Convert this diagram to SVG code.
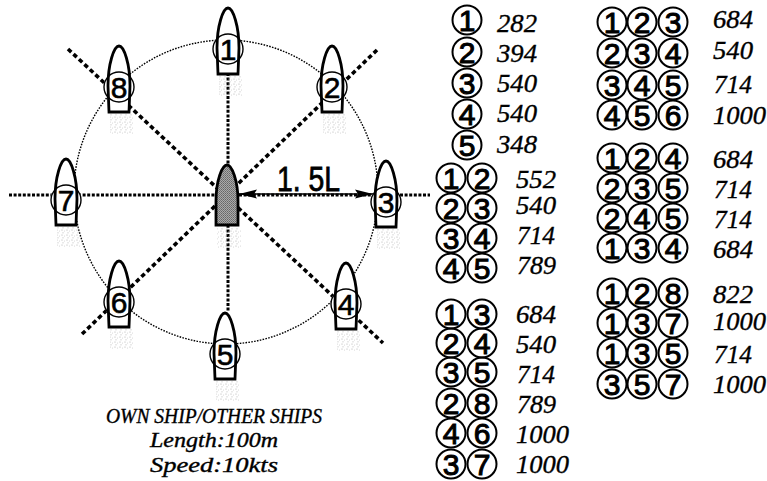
<svg xmlns="http://www.w3.org/2000/svg" xmlns:xlink="http://www.w3.org/1999/xlink" width="767" height="481" viewBox="0 0 767 481">
<style>
.d{font-family:"Liberation Sans",sans-serif;font-size:30px;fill:#000;stroke:#000;stroke-width:1px;text-anchor:middle}
.sd{stroke-width:.6px}
.v{font-family:"Liberation Serif",serif;font-style:italic;font-size:25px;fill:#000;stroke:#000;stroke-width:.35px}
.c{font-family:"Liberation Serif",serif;font-style:italic;font-size:20px;fill:#000;stroke:#000;stroke-width:.35px;text-anchor:middle}
.hull{fill:#fff;stroke:#000;stroke-width:2.8}
.ring{fill:none;stroke:#000;stroke-width:1.4}
.dash{fill:none;stroke:#000;stroke-width:3;stroke-dasharray:3 1.6}
.diag{fill:none;stroke:#000;stroke-width:3.6;stroke-dasharray:4.5 3}
.orbit{fill:none;stroke:#000;stroke-width:1.4;stroke-dasharray:1.6 1.3}
.halo{fill:#fff}
.r circle{r:14.5px;fill:none;stroke:#000;stroke-width:2}
</style>
<defs>
<pattern id="dots" width="5" height="5" patternUnits="userSpaceOnUse"><circle cx="1" cy="1" r=".6" fill="#aaa"/><circle cx="3.5" cy="2" r=".5" fill="#ccc"/><circle cx="2" cy="3.8" r=".6" fill="#bbb"/></pattern>
<pattern id="grey" width="2" height="2" patternUnits="userSpaceOnUse"><rect width="2" height="2" fill="#aaa"/><rect width="1" height="1" fill="#666"/><rect x="1" y="1" width="1" height="1" fill="#777"/></pattern>
<g id="ship"><rect x="-9" y="68" width="24" height="20" fill="url(#dots)"/><circle cx="0" cy="41" r="15.5" class="halo"/><path class="hull" d="M-10,66 L-11,40 C-11,18 -5,0 0,0 C5,0 11,18 11,40 L10,66 Z"/><circle cx="0" cy="41" r="15" class="ring"/></g>
<marker id="ah" viewBox="0 0 18 10" refX="18" refY="5" markerWidth="18" markerHeight="10" orient="auto-start-reverse" markerUnits="userSpaceOnUse"><path d="M0,0.5 L18,5 L0,9.5 L3,5 Z" fill="#000"/></marker>
</defs>
<rect width="767" height="481" fill="#fff"/>
<g id="connectors">
<circle cx="226" cy="192" r="152" class="orbit"/>
<path class="dash" d="M9,195 H430"/>
<path class="dash" d="M228,73 V312"/>
<path class="diag" d="M68,49 L383,343"/>
<path class="diag" d="M377,50 L80,336"/>
<path d="M239,194 H373" fill="none" stroke="#000" stroke-width="1.6" marker-start="url(#ah)" marker-end="url(#ah)"/>
</g>
<g id="own-ship"><rect x="217" y="228" width="24" height="20" fill="url(#dots)"/><path d="M-11,60 L-11,36 C-11,16 -5,0 0,0 C5,0 11,16 11,36 L11,60 Z" transform="translate(227,165)" fill="url(#grey)" stroke="#000" stroke-width="2.8"/></g>
<g id="ship1"><use xlink:href="#ship" x="228" y="8"/><text class="d sd" x="228" y="59.500">1</text></g>
<g id="ship2"><use xlink:href="#ship" x="332" y="46"/><text class="d sd" x="332" y="97.500">2</text></g>
<g id="ship3"><use xlink:href="#ship" x="386" y="161"/><text class="d sd" x="386" y="212.500">3</text></g>
<g id="ship4"><use xlink:href="#ship" x="346" y="263"/><text class="d sd" x="346" y="314.500">4</text></g>
<g id="ship5"><use xlink:href="#ship" x="225" y="313"/><text class="d sd" x="225" y="364.500">5</text></g>
<g id="ship6"><use xlink:href="#ship" x="119" y="261"/><text class="d sd" x="119" y="312.500">6</text></g>
<g id="ship7"><use xlink:href="#ship" x="66" y="159"/><text class="d sd" x="66" y="210.500">7</text></g>
<g id="ship8"><use xlink:href="#ship" x="119" y="46"/><text class="d sd" x="119" y="97.500">8</text></g>
<text x="277" y="191" font-family="Liberation Sans,sans-serif" font-size="35" textLength="63" lengthAdjust="spacingAndGlyphs" fill="#000" stroke="#000" stroke-width=".8">1. 5L</text>
<g id="caption">
<text class="c" x="214" y="423" textLength="216" lengthAdjust="spacingAndGlyphs">OWN SHIP/OTHER SHIPS</text>
<text class="c" x="214" y="447" textLength="128" lengthAdjust="spacingAndGlyphs">Length:100m</text>
<text class="c" x="214" y="472" textLength="128" lengthAdjust="spacingAndGlyphs">Speed:10kts</text>
</g>
<g id="table">
<g class="r">
<circle cx="467" cy="20"/><circle cx="467" cy="52"/><circle cx="467" cy="83"/><circle cx="467" cy="114"/><circle cx="467" cy="145"/>
<circle cx="451" cy="178"/><circle cx="482" cy="178"/><circle cx="451" cy="208"/><circle cx="482" cy="208"/><circle cx="451" cy="238"/><circle cx="482" cy="238"/><circle cx="451" cy="268"/><circle cx="482" cy="268"/>
<circle cx="451" cy="314"/><circle cx="482" cy="314"/><circle cx="451" cy="343"/><circle cx="482" cy="343"/><circle cx="451" cy="372"/><circle cx="482" cy="372"/><circle cx="451" cy="403"/><circle cx="482" cy="403"/><circle cx="451" cy="433"/><circle cx="482" cy="433"/><circle cx="451" cy="464"/><circle cx="482" cy="464"/>
<circle cx="612" cy="22"/><circle cx="642" cy="22"/><circle cx="673" cy="22"/><circle cx="612" cy="53"/><circle cx="642" cy="53"/><circle cx="673" cy="53"/><circle cx="612" cy="85"/><circle cx="642" cy="85"/><circle cx="673" cy="85"/><circle cx="612" cy="115"/><circle cx="642" cy="115"/><circle cx="673" cy="115"/>
<circle cx="612" cy="158"/><circle cx="642" cy="158"/><circle cx="673" cy="158"/><circle cx="612" cy="188"/><circle cx="642" cy="188"/><circle cx="673" cy="188"/><circle cx="612" cy="218"/><circle cx="642" cy="218"/><circle cx="673" cy="218"/><circle cx="612" cy="248"/><circle cx="642" cy="248"/><circle cx="673" cy="248"/>
<circle cx="612" cy="293"/><circle cx="642" cy="293"/><circle cx="673" cy="293"/><circle cx="612" cy="323"/><circle cx="642" cy="323"/><circle cx="673" cy="323"/><circle cx="612" cy="353"/><circle cx="642" cy="353"/><circle cx="673" cy="353"/><circle cx="612" cy="384"/><circle cx="642" cy="384"/><circle cx="673" cy="384"/>
</g>
<text class="d" x="467" y="30.500">1</text><text class="v" x="497" y="32" textLength="40" lengthAdjust="spacingAndGlyphs">282</text>
<text class="d" x="467" y="62.500">2</text><text class="v" x="497" y="62" textLength="40" lengthAdjust="spacingAndGlyphs">394</text>
<text class="d" x="467" y="93.500">3</text><text class="v" x="497" y="92" textLength="40" lengthAdjust="spacingAndGlyphs">540</text>
<text class="d" x="467" y="124.500">4</text><text class="v" x="497" y="122" textLength="40" lengthAdjust="spacingAndGlyphs">540</text>
<text class="d" x="467" y="155.500">5</text><text class="v" x="497" y="153" textLength="40" lengthAdjust="spacingAndGlyphs">348</text>

<text class="d" x="451 482" y="188.500">12</text><text class="v" x="516" y="188" textLength="40" lengthAdjust="spacingAndGlyphs">552</text>
<text class="d" x="451 482" y="218.500">23</text><text class="v" x="516" y="214" textLength="40" lengthAdjust="spacingAndGlyphs">540</text>
<text class="d" x="451 482" y="248.500">34</text><text class="v" x="517" y="244" textLength="38" lengthAdjust="spacingAndGlyphs">714</text>
<text class="d" x="451 482" y="278.500">45</text><text class="v" x="517" y="274" textLength="39" lengthAdjust="spacingAndGlyphs">789</text>

<text class="d" x="451 482" y="324.500">13</text><text class="v" x="516" y="323" textLength="40" lengthAdjust="spacingAndGlyphs">684</text>
<text class="d" x="451 482" y="353.500">24</text><text class="v" x="516" y="353" textLength="40" lengthAdjust="spacingAndGlyphs">540</text>
<text class="d" x="451 482" y="382.500">35</text><text class="v" x="517" y="383" textLength="38" lengthAdjust="spacingAndGlyphs">714</text>
<text class="d" x="451 482" y="413.500">28</text><text class="v" x="517" y="413" textLength="39" lengthAdjust="spacingAndGlyphs">789</text>
<text class="d" x="451 482" y="443.500">46</text><text class="v" x="516" y="443" textLength="53" lengthAdjust="spacingAndGlyphs">1000</text>
<text class="d" x="451 482" y="474.500">37</text><text class="v" x="516" y="473" textLength="53" lengthAdjust="spacingAndGlyphs">1000</text>

<text class="d" x="612 642 673" y="32.500">123</text><text class="v" x="713" y="28" textLength="40" lengthAdjust="spacingAndGlyphs">684</text>
<text class="d" x="612 642 673" y="63.500">234</text><text class="v" x="713" y="59" textLength="40" lengthAdjust="spacingAndGlyphs">540</text>
<text class="d" x="612 642 673" y="95.500">345</text><text class="v" x="714" y="93" textLength="38" lengthAdjust="spacingAndGlyphs">714</text>
<text class="d" x="612 642 673" y="125.500">456</text><text class="v" x="713" y="124" textLength="53" lengthAdjust="spacingAndGlyphs">1000</text>

<text class="d" x="612 642 673" y="168.500">124</text><text class="v" x="713" y="168" textLength="40" lengthAdjust="spacingAndGlyphs">684</text>
<text class="d" x="612 642 673" y="198.500">235</text><text class="v" x="714" y="198" textLength="38" lengthAdjust="spacingAndGlyphs">714</text>
<text class="d" x="612 642 673" y="228.500">245</text><text class="v" x="714" y="228" textLength="38" lengthAdjust="spacingAndGlyphs">714</text>
<text class="d" x="612 642 673" y="258.500">134</text><text class="v" x="713" y="258" textLength="40" lengthAdjust="spacingAndGlyphs">684</text>

<text class="d" x="612 642 673" y="303.500">128</text><text class="v" x="713" y="303" textLength="40" lengthAdjust="spacingAndGlyphs">822</text>
<text class="d" x="612 642 673" y="333.500">137</text><text class="v" x="713" y="330" textLength="53" lengthAdjust="spacingAndGlyphs">1000</text>
<text class="d" x="612 642 673" y="363.500">135</text><text class="v" x="714" y="363" textLength="38" lengthAdjust="spacingAndGlyphs">714</text>
<text class="d" x="612 642 673" y="394.500">357</text><text class="v" x="713" y="393" textLength="53" lengthAdjust="spacingAndGlyphs">1000</text>
</g>
</svg>
